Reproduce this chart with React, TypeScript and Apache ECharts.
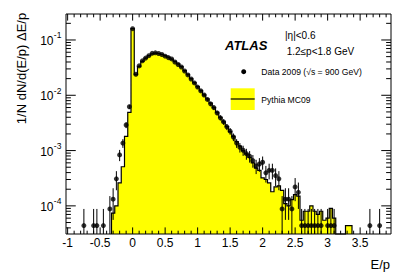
import React, { useEffect, useRef } from "react";
import * as echarts from "echarts";

// ---- data ----
const BIN_WIDTH = 0.05;
const COUNT_SCALE = 4.4e-5; // 1/N normalisation of a single data entry

const dataX = [
  -0.75, -0.6, -0.55, -0.45, -0.35, -0.3, -0.25, -0.2, -0.15, -0.1, -0.05, 0,
  0.05, 0.1, 0.15, 0.2, 0.25, 0.3, 0.35, 0.4, 0.45, 0.5, 0.55, 0.6, 0.65, 0.7,
  0.75, 0.8, 0.85, 0.9, 0.95, 1.0, 1.05, 1.1, 1.15, 1.2, 1.25, 1.3, 1.35, 1.4,
  1.45, 1.5, 1.55, 1.6, 1.65, 1.7, 1.75, 1.8, 1.85, 1.9, 1.95, 2.0, 2.05, 2.1,
  2.15, 2.2, 2.25, 2.3, 2.35, 2.4, 2.45, 2.5, 2.55, 2.6, 2.65, 2.7, 2.75, 2.8,
  2.85, 2.9, 3.0, 3.05, 3.1, 3.65, 3.8,
];
const dataCounts = [
  1, 1, 1, 1, 2, 3, 7, 19, 31, 66, 141, 3640,
  545, 773, 955, 1068, 1182, 1305, 1330, 1295, 1243, 1159, 1091, 1032, 909, 818,
  739, 625, 530, 448, 380, 320, 273, 230, 191, 159, 136, 109, 89, 75,
  61, 51, 40, 31, 26, 23, 20, 18, 15, 12, 13, 14, 9, 10,
  10, 8, 7, 2, 3, 3, 2, 5, 4, 1, 1, 1, 1, 1,
  1, 1, 1, 1, 1, 1, 1,
];

const mcX = [
  -0.3, -0.25, -0.2, -0.15, -0.1, -0.05, 0, 0.05, 0.1, 0.15, 0.2, 0.25, 0.3,
  0.35, 0.4, 0.45, 0.5, 0.55, 0.6, 0.65, 0.7, 0.75, 0.8, 0.85, 0.9, 0.95, 1.0,
  1.05, 1.1, 1.15, 1.2, 1.25, 1.3, 1.35, 1.4, 1.45, 1.5, 1.55, 1.6, 1.65, 1.7,
  1.75, 1.8, 1.85, 1.9, 1.95, 2.0, 2.05, 2.1, 2.15, 2.2, 2.25, 2.3, 2.35, 2.4,
  2.45, 2.5, 2.55, 2.6, 2.65, 2.7, 2.75, 2.8, 2.85, 2.9, 2.95, 3.0, 3.05, 3.1,
  3.15, 3.2, 3.25, 3.3, 3.35,
];
const mcValues = [
  7.4e-5, 1.0e-4, 2.6e-4, 5.1e-4, 1.8e-3, 4.9e-3, 0.16, 0.0235, 0.033, 0.041,
  0.047, 0.052, 0.056, 0.058, 0.057, 0.055, 0.052, 0.049, 0.045, 0.041, 0.037,
  0.033, 0.028, 0.024, 0.02, 0.017, 0.0143, 0.0121, 0.0102, 0.0086, 0.0072,
  0.006, 0.0049, 0.004, 0.0033, 0.0027, 0.0022, 0.0018, 0.00145, 0.0012, 0.001,
  0.00087, 0.00075, 0.0006, 0.00048, 0.00044, 0.00032, 0.0003, 0.00026, 0.00018,
  0.00022, 0.00023, 0.00019, 0.00011, 0.0001, 0.00013, 0.00016, 0.00015,
  5.5e-5, 8e-5, 8e-5, 1.0e-4, 8e-5, 7e-5, 8e-5, 5.5e-5, 6e-5, 9e-5, 6e-5,
  0, 0, 0, 4.4e-5, 4.4e-5,
];

const xTickValues = [-1, -0.5, 0, 0.5, 1, 1.5, 2, 2.5, 3, 3.5];
const xTickLabels = ["-1", "-0.5", "0", "0.5", "1", "1.5", "2", "2.5", "3", "3.5"];
const yDecades = [-4, -3, -2, -1];

const X_MIN = -1.025;
const X_MAX = 3.975;
const Y_MIN = 3.1e-5;
const Y_MAX = 0.295;

const FONT = "'Liberation Sans', Arial, Helvetica, sans-serif";

export default function App() {
  const ref = useRef<HTMLDivElement>(null);

  useEffect(() => {
    if (!ref.current) return;
    const chart = echarts.init(ref.current, undefined, { renderer: "svg" });

    const dataValues = dataCounts.map((c) => c * COUNT_SCALE);
    const dataErr = dataCounts.map((c) => Math.sqrt(c) * COUNT_SCALE);

    const renderMC = (params: any, api: any) => {
      const yBottom = api.coord([X_MIN, Y_MIN])[1];
      const cy = (v: number) => (v > Y_MIN ? api.coord([0, v])[1] : yBottom);
      const cx = (x: number) => api.coord([x, Y_MIN])[0];
      const pts: number[][] = [];
      let prevEdge: number | null = null;
      for (let i = 0; i < mcX.length; i++) {
        const x0 = mcX[i] - BIN_WIDTH / 2;
        const x1 = mcX[i] + BIN_WIDTH / 2;
        const y = cy(mcValues[i]);
        if (prevEdge === null) {
          pts.push([cx(x0), yBottom]);
        } else if (Math.abs(prevEdge - x0) > 1e-6) {
          pts.push([cx(prevEdge), yBottom]);
          pts.push([cx(x0), yBottom]);
        }
        pts.push([cx(x0), y]);
        pts.push([cx(x1), y]);
        prevEdge = x1;
      }
      pts.push([cx(prevEdge as number), yBottom]);
      return {
        type: "group",
        children: [
          { type: "polygon", shape: { points: pts }, style: { fill: "#ffff00", stroke: "none" } },
          { type: "polyline", shape: { points: pts }, style: { fill: "none", stroke: "#000", lineWidth: 1.2 } },
        ],
      };
    };

    const renderErr = (params: any, api: any) => {
      const x = api.value(0);
      const lo = api.value(2);
      const hi = api.value(3);
      const p1 = api.coord([x, Math.max(lo, Y_MIN)]);
      const p2 = api.coord([x, hi]);
      return {
        type: "line",
        shape: { x1: p1[0], y1: p1[1], x2: p2[0], y2: p2[1] },
        style: { stroke: "#000", lineWidth: 1 },
      };
    };

    const renderAxes = (params: any, api: any) => {
      const children: any[] = [];
      const [xl, yb] = api.coord([X_MIN, Y_MIN]);
      const [xr, yt] = api.coord([X_MAX, Y_MAX]);
      const H = yb - yt;
      const W = xr - xl;
      const line = (x1: number, y1: number, x2: number, y2: number) =>
        children.push({ type: "line", shape: { x1, y1, x2, y2 }, style: { stroke: "#000", lineWidth: 1 } });
      children.push({
        type: "rect",
        shape: { x: xl, y: yt, width: W, height: H },
        style: { fill: "none", stroke: "#000", lineWidth: 1 },
      });
      const xLen = 0.03 * H;
      const yLen = 0.03 * W;
      // x ticks (major every 0.5, minor every 0.1)
      for (let k = -10; k <= 39; k++) {
        const v = k / 10;
        const px = api.coord([v, Y_MIN])[0];
        if (px < xl || px > xr) continue;
        const len = k % 5 === 0 ? xLen : xLen / 2;
        line(px, yb, px, yb - len);
        line(px, yt, px, yt + len);
      }
      xTickValues.forEach((v, i) => {
        const px = api.coord([v, Y_MIN])[0];
        children.push({
          type: "text",
          x: px,
          y: yb + 8.5,
          style: { text: xTickLabels[i], fontSize: 12, fontFamily: FONT, fill: "#000", align: "center", verticalAlign: "middle" },
        });
      });
      // y ticks (log)
      for (let d = -5; d <= -1; d++) {
        for (let m = 1; m <= 9; m++) {
          const v = m * Math.pow(10, d);
          if (v < Y_MIN || v > Y_MAX) continue;
          const py = api.coord([0, v])[1];
          const len = m === 1 ? yLen : yLen / 2;
          line(xl, py, xl + len, py);
          line(xr, py, xr - len, py);
        }
      }
      yDecades.forEach((d) => {
        const py = api.coord([0, Math.pow(10, d)])[1];
        children.push({
          type: "text",
          x: xl - 12.5,
          y: py + 1,
          style: { text: "10", fontSize: 12, fontFamily: FONT, fill: "#000", align: "right", verticalAlign: "middle" },
        });
        children.push({
          type: "text",
          x: xl - 12.2,
          y: py - 4.5,
          style: { text: String(d), fontSize: 8.5, fontFamily: FONT, fill: "#000", align: "left", verticalAlign: "middle" },
        });
      });
      return { type: "group", children };
    };

    chart.setOption({
      animation: false,
      grid: { left: 66, top: 14, width: 325, height: 220, containLabel: false },
      xAxis: {
        type: "value",
        min: X_MIN,
        max: X_MAX,
        axisLine: { show: false },
        axisTick: { show: false },
        axisLabel: { show: false },
        splitLine: { show: false },
      },
      yAxis: {
        type: "log",
        min: Y_MIN,
        max: Y_MAX,
        axisLine: { show: false },
        axisTick: { show: false },
        axisLabel: { show: false },
        splitLine: { show: false },
      },
      series: [
        {
          type: "custom",
          name: "Pythia MC09",
          renderItem: renderMC,
          data: [[0, 0.01]],
          z: 1,
          silent: true,
        },
        {
          type: "custom",
          name: "errors",
          renderItem: renderErr,
          data: dataX.map((x, i) => [x, dataValues[i], dataValues[i] - dataErr[i], dataValues[i] + dataErr[i]]),
          encode: { x: 0, y: 1 },
          z: 3,
          silent: true,
        },
        {
          type: "scatter",
          name: "Data 2009",
          data: dataX.map((x, i) => [x, dataValues[i]]),
          symbol: "circle",
          symbolSize: 5,
          itemStyle: { color: "#000" },
          z: 4,
          silent: true,
        },
        {
          type: "custom",
          name: "axes",
          renderItem: renderAxes,
          data: [[0, 0.01]],
          z: 10,
          silent: true,
        },
      ],
      graphic: [
        {
          type: "text",
          x: 21,
          y: 68.5,
          rotation: Math.PI / 2,
          style: { text: "1/N dN/d(E/p) ΔE/p", fontSize: 13, fontFamily: FONT, fill: "#000", align: "center", verticalAlign: "middle" },
        },
        {
          type: "text",
          x: 390,
          y: 264,
          style: { text: "E/p", fontSize: 13, fontFamily: FONT, fill: "#000", align: "right", verticalAlign: "middle" },
        },
        {
          type: "text",
          x: 225,
          y: 45,
          style: { text: "ATLAS", fontSize: 13, fontWeight: "bold", fontStyle: "italic", fontFamily: FONT, fill: "#000", align: "left", verticalAlign: "middle" },
        },
        {
          type: "text",
          x: 285,
          y: 35,
          style: { text: "|η|<0.6", fontSize: 10, fontFamily: FONT, fill: "#000", align: "left", verticalAlign: "middle" },
        },
        {
          type: "text",
          x: 286.7,
          y: 51.7,
          style: { text: "1.2≤p<1.8 GeV", fontSize: 10, fontFamily: FONT, fill: "#000", align: "left", verticalAlign: "middle" },
        },
        {
          type: "circle",
          shape: { cx: 243.7, cy: 71.7, r: 2.5 },
          style: { fill: "#000" },
        },
        {
          type: "text",
          x: 261.3,
          y: 71.7,
          style: { text: "Data 2009 (√s = 900 GeV)", fontSize: 8.6, fontFamily: FONT, fill: "#000", align: "left", verticalAlign: "middle" },
        },
        {
          type: "rect",
          shape: { x: 230.7, y: 88.3, width: 24, height: 21.7 },
          style: { fill: "#ffff00" },
        },
        {
          type: "line",
          shape: { x1: 230.7, y1: 99, x2: 254.7, y2: 99 },
          style: { stroke: "#000", lineWidth: 1.2 },
        },
        {
          type: "text",
          x: 261.3,
          y: 100,
          style: { text: "Pythia MC09", fontSize: 8.6, fontFamily: FONT, fill: "#000", align: "left", verticalAlign: "middle" },
        },
      ],
    });

    return () => chart.dispose();
  }, []);

  return (
    <div
      ref={ref}
      style={{ position: "fixed", left: 0, top: 0, width: 411, height: 279, background: "#fff" }}
    />
  );
}
